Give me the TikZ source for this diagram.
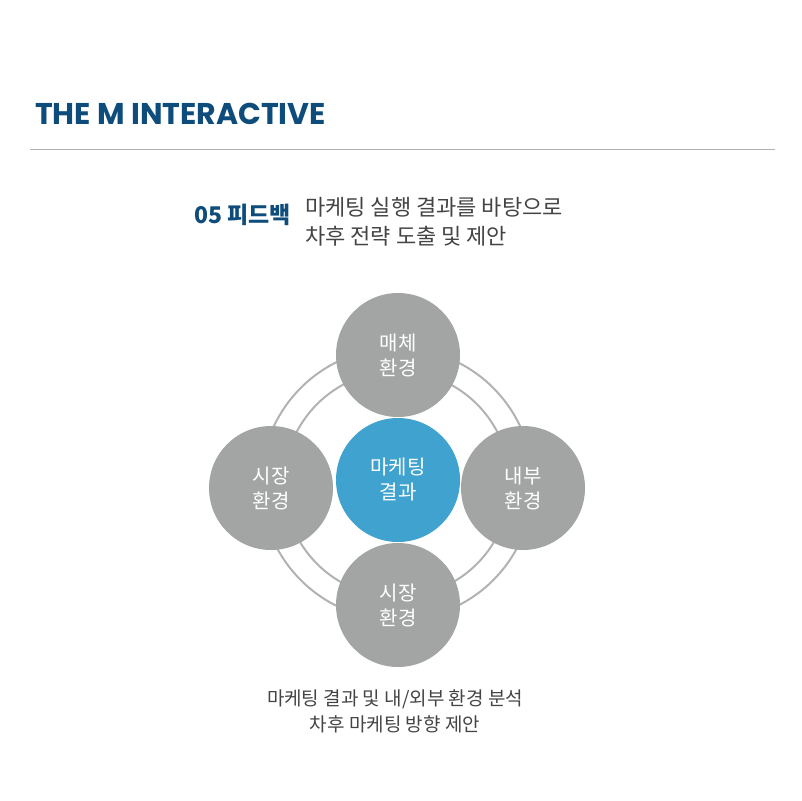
\documentclass[tikz,border=0pt]{standalone}
\usepackage{fontspec}
\setmainfont{Noto Sans CJK KR}
\newfontfamily\titlefont{Poppins}
\definecolor{tmblue}{HTML}{0E4C7C}
\definecolor{tmgray}{HTML}{A3A5A4}
\definecolor{tmring}{HTML}{B2B2B2}
\definecolor{tmcyan}{HTML}{40A2CF}
\definecolor{tmtext}{HTML}{444444}
\begin{document}
\begin{tikzpicture}[x=1pt,y=-1pt,
  every node/.style={inner sep=0pt},
  topic/.style={circle,fill=tmgray,minimum size=124pt,text=white,align=center,font=\fontsize{20}{25}\selectfont},
  ring/.style={draw=tmring,line width=2pt}]
\useasboundingbox (0,0) rectangle (802,800);
\node[anchor=west,text=tmblue,font=\titlefont\bfseries\fontsize{30}{30}\selectfont] (title) at (35,114) {THE M INTERACTIVE};
\draw[tmring,line width=1pt] (30,149) coordinate (l0) -- (775,149) coordinate (l1);

\node[anchor=east,text=tmblue,font=\bfseries\fontsize{23}{28}\selectfont] (step) at (291,215) {05 피드백};
\node[anchor=north west,text=tmtext,align=left,font=\fontsize{22}{29}\selectfont] (desc) at (305,197) {마케팅 실행 결과를 바탕으로\\차후 전략 도출 및 제안};

\draw[ring] (397,484) circle (136);
\draw[ring] (397,484) circle (113);
\node[topic] (media) at (398,355) {매체\\환경};
\node[topic] (market) at (271,488) {시장\\환경};
\node[topic] (inner) at (523,488) {내부\\환경};
\node[topic] (market2) at (398,605) {시장\\환경};
\node[topic,fill=tmcyan] (result) at (398,480) {마케팅\\결과};

\node[text=tmtext,align=center,font=\fontsize{19}{26}\selectfont] (note) at (395,711) {마케팅 결과 및 내/외부 환경 분석\\차후 마케팅 방향 제안};
\end{tikzpicture}
\end{document}
